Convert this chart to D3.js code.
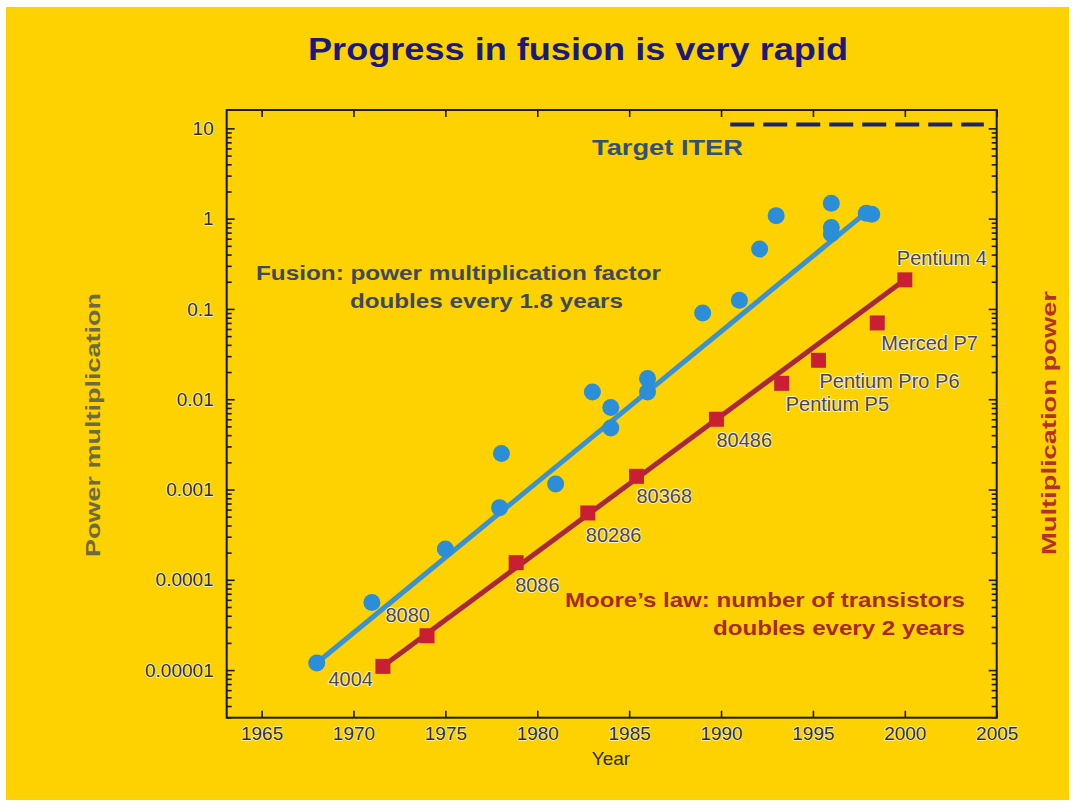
<!DOCTYPE html>
<html>
<head>
<meta charset="utf-8">
<script src="https://cdn.jsdelivr.net/npm/d3@7"></script>
<style>
  body { margin: 0; background: #fff; }
  svg { display: block; }
  text { font-family: "Liberation Sans", Arial, Helvetica, sans-serif; }
</style>
</head>
<body>
<script>
// fusion experiments: year and power multiplication factor
let fusionYear = [1968.0, 1971.0, 1975.0, 1977.95, 1978.05, 1981.0, 1983.0, 1984.0, 1984.0,
    1986.0, 1986.0, 1989.0, 1991.0, 1992.1, 1993.0, 1996.0, 1996.0, 1996.0, 1997.9, 1998.2];
let fusionValue = [1.2e-5, 5.6e-5, 2.2e-4, 6.3e-4, 2.5e-3, 1.15e-3, 0.012, 0.0081, 0.0048,
    0.017, 0.012, 0.09, 0.125, 0.46, 1.08, 1.48, 0.8, 0.68, 1.15, 1.12];

// Moore's law chips
let mooreYear = [1971.6, 1974.0, 1978.85, 1982.75, 1985.4, 1989.75, 1993.3, 1995.3, 1998.5, 2000.0];
let mooreValue = [1.1e-5, 2.4e-5, 1.55e-4, 5.5e-4, 1.4e-3, 6.0e-3, 0.015, 0.027, 0.07, 0.21];
let mooreChip = ["4004", "8080", "8086", "80286", "80368", "80486",
    "Pentium P5", "Pentium Pro P6", "Merced P7", "Pentium 4"];

// trend lines (end points)
let fusionTrendYear = [1968.0, 1998.0];
let fusionTrendValue = [1.2e-5, 1.22];
let mooreTrendYear = [1971.6, 2000.0];
let mooreTrendValue = [1.1e-5, 0.21];

// ITER target
let iterYear = [1990.5, 2004.3];
let iterValue = 11;

let xTicks = [1965, 1970, 1975, 1980, 1985, 1990, 1995, 2000, 2005];
let yTicks = [10, 1, 0.1, 0.01, 0.001, 0.0001, 0.00001];
let yTickLabels = ["10", "1", "0.1", "0.01", "0.001", "0.0001", "0.00001"];

// label placement next to each chip: dx, dy, anchor
let chipLabelPos = {
    "4004": [-10, 20, "end"],
    "8080": [3, -14, "end"],
    "8086": [-1, 29, "start"],
    "80286": [-2, 29, "start"],
    "80368": [0, 27, "start"],
    "80486": [0, 28, "start"],
    "Pentium P5": [4, 28, "start"],
    "Pentium Pro P6": [1, 28, "start"],
    "Merced P7": [4, 27, "start"],
    "Pentium 4": [-8, -15, "start"]
};

let width = 1075;
let height = 811;
let plotLeft = 226.7, plotRight = 996.7, plotTop = 110, plotBottom = 717.7;

let svg = d3.select("body")
    .append("svg")
    .attr("width", width)
    .attr("height", height);

// yellow slide
svg.append("rect")
    .attr("x", 6).attr("y", 7)
    .attr("width", 1063).attr("height", 793)
    .attr("fill", "#fdd200");

let x = d3.scaleLinear().domain([1963.1, 2005]).range([plotLeft, plotRight]);
let y = d3.scaleLog().domain([2.97e-6, 15.97]).range([plotBottom, plotTop]);

// minor log ticks
let minorTicks = [];
for (let e = -6; e <= 1; e++) {
    for (let m = 2; m <= 9; m++) {
        let v = m * Math.pow(10, e);
        if (v >= y.domain()[0] && v <= y.domain()[1]) minorTicks.push(v);
    }
}

let axisColor = "#1a1a1a";

function styleAxis(g) {
    g.select(".domain").remove();
    g.selectAll("line").attr("stroke", axisColor).attr("stroke-width", 1.6);
    g.selectAll("text")
        .attr("fill", "#2e2e2e")
        .attr("font-size", 19)
        .attr("stroke", "#fff3c0")
        .attr("stroke-width", 1.4)
        .attr("paint-order", "stroke");
}

// left axis
svg.append("g")
    .attr("transform", `translate(${plotLeft},0)`)
    .call(d3.axisLeft(y).tickValues(yTicks).tickSizeInner(-8).tickSizeOuter(0)
        .tickPadding(13).tickFormat((d, i) => yTickLabels[i]))
    .call(styleAxis);
svg.append("g")
    .attr("transform", `translate(${plotLeft},0)`)
    .call(d3.axisLeft(y).tickValues(minorTicks).tickSizeInner(-5).tickSizeOuter(0).tickFormat(""))
    .call(styleAxis);

// right axis
svg.append("g")
    .attr("transform", `translate(${plotRight},0)`)
    .call(d3.axisRight(y).tickValues(yTicks).tickSizeInner(-8).tickSizeOuter(0).tickFormat(""))
    .call(styleAxis);
svg.append("g")
    .attr("transform", `translate(${plotRight},0)`)
    .call(d3.axisRight(y).tickValues(minorTicks).tickSizeInner(-5).tickSizeOuter(0).tickFormat(""))
    .call(styleAxis);

// bottom axis
svg.append("g")
    .attr("transform", `translate(0,${plotBottom})`)
    .call(d3.axisBottom(x).tickValues(xTicks).tickSizeInner(-7).tickSizeOuter(0)
        .tickPadding(9).tickFormat(d3.format("d")))
    .call(styleAxis);

// top axis
svg.append("g")
    .attr("transform", `translate(0,${plotTop})`)
    .call(d3.axisTop(x).tickValues(xTicks).tickSizeInner(-7).tickSizeOuter(0).tickFormat(""))
    .call(styleAxis);

// frame
svg.append("rect")
    .attr("x", plotLeft).attr("y", plotTop)
    .attr("width", plotRight - plotLeft).attr("height", plotBottom - plotTop)
    .attr("fill", "none")
    .attr("stroke", axisColor)
    .attr("stroke-width", 2);

// x axis title
svg.append("text")
    .attr("x", 611).attr("y", 765)
    .attr("text-anchor", "middle")
    .attr("font-size", 19)
    .attr("fill", "#2e2e2e")
    .text("Year");

// title
svg.append("text")
    .attr("x", 308).attr("y", 60)
    .attr("font-size", 32).attr("font-weight", "bold")
    .attr("fill", "#1b1a7c")
    .attr("textLength", 540).attr("lengthAdjust", "spacingAndGlyphs")
    .text("Progress in fusion is very rapid");

// y axis titles
svg.append("text")
    .attr("transform", "translate(100,425) rotate(-90)")
    .attr("text-anchor", "middle")
    .attr("font-size", 21).attr("font-weight", "bold")
    .attr("fill", "#6f6a3e")
    .attr("textLength", 264).attr("lengthAdjust", "spacingAndGlyphs")
    .text("Power multiplication");

svg.append("text")
    .attr("transform", "translate(1056,423) rotate(-90)")
    .attr("text-anchor", "middle")
    .attr("font-size", 21).attr("font-weight", "bold")
    .attr("fill", "#b5321c")
    .attr("textLength", 264).attr("lengthAdjust", "spacingAndGlyphs")
    .text("Multiplication power");

// ITER target dashed line
svg.append("line")
    .attr("x1", x(iterYear[0])).attr("x2", x(iterYear[1]))
    .attr("y1", y(iterValue)).attr("y2", y(iterValue))
    .attr("stroke", "#1a2470")
    .attr("stroke-width", 4)
    .attr("stroke-dasharray", "24,9");

svg.append("text")
    .attr("x", 592).attr("y", 155)
    .attr("font-size", 22).attr("font-weight", "bold")
    .attr("fill", "#33507c")
    .attr("textLength", 151).attr("lengthAdjust", "spacingAndGlyphs")
    .text("Target ITER");

// trend lines
let line = d3.line().x(d => x(d[0])).y(d => y(d[1]));

svg.append("path")
    .datum(fusionTrendYear.map((yr, i) => [yr, fusionTrendValue[i]]))
    .attr("d", line)
    .attr("fill", "none")
    .attr("stroke", "#3a92d3")
    .attr("stroke-width", 5);

svg.append("path")
    .datum(mooreTrendYear.map((yr, i) => [yr, mooreTrendValue[i]]))
    .attr("d", line)
    .attr("fill", "none")
    .attr("stroke", "#a8283a")
    .attr("stroke-width", 5);

// fusion points
svg.selectAll(".fusion")
    .data(fusionYear.map((yr, i) => ({ year: yr, value: fusionValue[i] })))
    .enter().append("circle")
    .attr("class", "fusion")
    .attr("cx", d => x(d.year))
    .attr("cy", d => y(d.value))
    .attr("r", 8.5)
    .attr("fill", "#2b8ed8");

// moore squares
let chips = mooreYear.map((yr, i) => ({ year: yr, value: mooreValue[i], name: mooreChip[i] }));
let sq = 15;

svg.selectAll(".chip")
    .data(chips)
    .enter().append("rect")
    .attr("class", "chip")
    .attr("x", d => x(d.year) - sq / 2)
    .attr("y", d => y(d.value) - sq / 2)
    .attr("width", sq).attr("height", sq)
    .attr("fill", "#c81f34");

svg.selectAll(".chip-label")
    .data(chips)
    .enter().append("text")
    .attr("class", "chip-label")
    .attr("x", d => x(d.year) + chipLabelPos[d.name][0])
    .attr("y", d => y(d.value) + chipLabelPos[d.name][1])
    .attr("text-anchor", d => chipLabelPos[d.name][2])
    .attr("font-size", 20)
    .attr("fill", "#4b4552")
    .attr("stroke", "#fff3c8")
    .attr("stroke-width", 1.8)
    .attr("paint-order", "stroke")
    .text(d => d.name);

// annotations
svg.append("text")
    .attr("x", 256).attr("y", 280)
    .attr("font-size", 21).attr("font-weight", "bold")
    .attr("fill", "#3d4a5e")
    .attr("textLength", 405).attr("lengthAdjust", "spacingAndGlyphs")
    .text("Fusion: power multiplication factor");
svg.append("text")
    .attr("x", 350).attr("y", 308)
    .attr("font-size", 21).attr("font-weight", "bold")
    .attr("fill", "#3d4a5e")
    .attr("textLength", 273).attr("lengthAdjust", "spacingAndGlyphs")
    .text("doubles every 1.8 years");

svg.append("text")
    .attr("x", 965).attr("y", 607)
    .attr("text-anchor", "end")
    .attr("font-size", 21).attr("font-weight", "bold")
    .attr("fill", "#a82a1e")
    .attr("textLength", 400).attr("lengthAdjust", "spacingAndGlyphs")
    .text("Moore\u2019s law: number of transistors");
svg.append("text")
    .attr("x", 965).attr("y", 635)
    .attr("text-anchor", "end")
    .attr("font-size", 21).attr("font-weight", "bold")
    .attr("fill", "#a82a1e")
    .attr("textLength", 252).attr("lengthAdjust", "spacingAndGlyphs")
    .text("doubles every 2 years");
</script>
</body>
</html>
